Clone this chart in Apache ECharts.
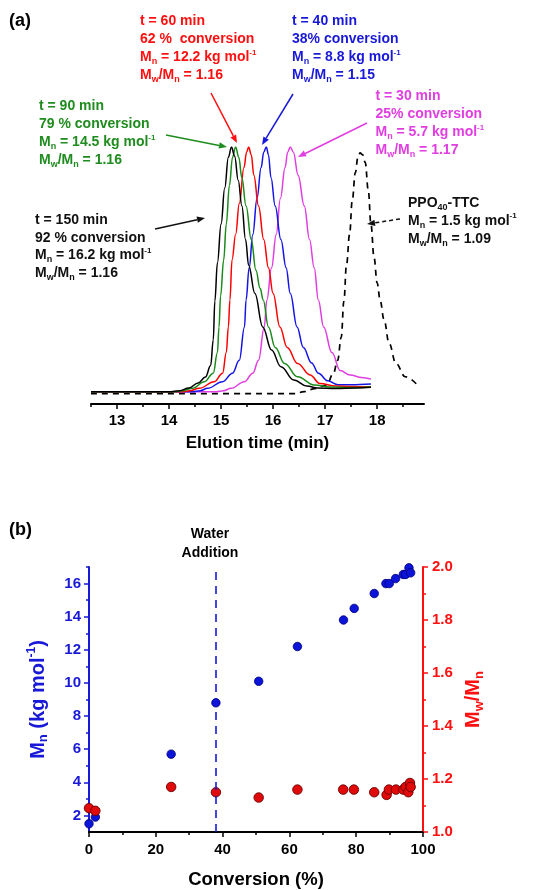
<!DOCTYPE html>
<html>
<head>
<meta charset="utf-8">
<title>GPC traces and Mn, dispersity vs conversion</title>
<script src="https://cdn.jsdelivr.net/npm/echarts@6.0.0/dist/echarts.min.js"></script>
<style>
  html, body { margin: 0; padding: 0; background: #fff; }
  #chart { width: 539px; height: 890px; }
</style>
</head>
<body>
<div id="chart"></div>
<script>
// ---- (a) GPC traces: [elution time (min), normalised RI signal] ----
const trace150 = [[12.5,0.048],[14.0,0.048],[14.2,0.052],[14.38,0.062],[14.56,0.082],[14.7,0.105],[14.8,0.15],[14.85,0.25],[14.88,0.4],[14.93,0.55],[15.0,0.7],[15.07,0.84],[15.14,0.96],[15.2,1.0],[15.26,0.965],[15.33,0.87],[15.4,0.77],[15.47,0.64],[15.53,0.54],[15.65,0.43],[15.8,0.3],[15.97,0.21],[16.15,0.145],[16.4,0.093],[16.65,0.07],[16.85,0.062],[17.2,0.06],[17.6,0.062],[17.88,0.065]]
const trace90 = [[12.5,0.048],[14.1,0.048],[14.25,0.052],[14.45,0.061],[14.68,0.087],[14.85,0.12],[14.93,0.2],[14.96,0.3],[14.99,0.42],[15.05,0.56],[15.1,0.7],[15.16,0.85],[15.22,0.96],[15.28,1.0],[15.34,0.96],[15.4,0.88],[15.48,0.77],[15.58,0.64],[15.67,0.52],[15.75,0.45],[15.81,0.405],[15.91,0.3],[16.04,0.22],[16.22,0.158],[16.47,0.106],[16.79,0.074],[17.1,0.066],[17.5,0.064],[17.88,0.066]]
const trace60 = [[12.5,0.048],[14.25,0.048],[14.4,0.052],[14.58,0.061],[14.87,0.087],[15.03,0.12],[15.1,0.2],[15.14,0.3],[15.17,0.405],[15.21,0.56],[15.28,0.66],[15.35,0.78],[15.44,0.92],[15.49,0.98],[15.53,1.0],[15.58,0.97],[15.63,0.89],[15.72,0.77],[15.82,0.64],[15.91,0.53],[16.0,0.43],[16.13,0.3],[16.27,0.22],[16.47,0.158],[16.71,0.113],[16.9,0.08],[17.2,0.07],[17.5,0.068],[17.88,0.066]]
const trace40 = [[12.5,0.048],[14.45,0.048],[14.6,0.052],[14.74,0.061],[15.03,0.087],[15.22,0.12],[15.35,0.17],[15.45,0.3],[15.48,0.405],[15.54,0.53],[15.61,0.66],[15.69,0.8],[15.77,0.92],[15.82,0.98],[15.87,1.0],[15.91,0.97],[15.96,0.88],[16.04,0.77],[16.15,0.64],[16.25,0.53],[16.33,0.43],[16.46,0.3],[16.58,0.22],[16.74,0.16],[16.87,0.12],[17.05,0.09],[17.25,0.075],[17.5,0.075],[17.88,0.078]]
const trace30 = [[12.5,0.048],[14.9,0.048],[15.05,0.052],[15.19,0.061],[15.45,0.087],[15.61,0.12],[15.72,0.17],[15.83,0.3],[15.88,0.405],[15.97,0.53],[16.06,0.66],[16.14,0.8],[16.23,0.92],[16.28,0.98],[16.33,1.0],[16.39,0.98],[16.48,0.89],[16.6,0.77],[16.7,0.64],[16.79,0.53],[16.87,0.405],[16.97,0.3],[17.13,0.2],[17.29,0.13],[17.48,0.113],[17.7,0.103],[17.88,0.097]]
const tracePPO = [[12.5,0.04],[16.4,0.04],[16.6,0.048],[16.8,0.06],[17.03,0.074],[17.16,0.12],[17.24,0.17],[17.31,0.26],[17.36,0.4],[17.41,0.54],[17.47,0.66],[17.52,0.79],[17.58,0.9],[17.63,0.96],[17.67,0.977],[17.72,0.97],[17.77,0.94],[17.83,0.83],[17.88,0.7],[17.94,0.57],[18.0,0.47],[18.06,0.4],[18.13,0.33],[18.23,0.236],[18.36,0.158],[18.54,0.106],[18.79,0.07]]
const elutionTicks = [13, 14, 15, 16, 17, 18]
const elutionMinorTicks = [12.5, 13.5, 14.5, 15.5, 16.5, 17.5, 18.5]

// ---- (b) Mn and Mw/Mn against conversion ----
const conversionMn = [0, 1.9, 24.6, 38, 50.8, 62.4, 76.2, 79.4, 85.4, 88.9, 89.9, 91.8, 94.1, 94.8, 95.8, 96.3]
const mnValues = [1.5, 1.9, 5.7, 8.8, 10.1, 12.2, 13.8, 14.5, 15.4, 16.0, 16.0, 16.3, 16.55, 16.55, 16.95, 16.65]
const conversionDisp = [0, 1.9, 24.6, 38, 50.8, 62.4, 76.1, 79.3, 85.4, 89.1, 89.8, 91.9, 94.1, 94.8, 95.6, 96.1, 96.3]
const dispValues = [1.09, 1.08, 1.17, 1.15, 1.13, 1.16, 1.16, 1.16, 1.15, 1.14, 1.16, 1.16, 1.16, 1.17, 1.15, 1.185, 1.17]
const waterAddition = 38
const mnTicks = [2, 4, 6, 8, 10, 12, 14, 16]
const mnMinorTicks = [3, 5, 7, 9, 11, 13, 15, 17]

const FONT = '"Liberation Sans", Arial, sans-serif'
const BLACK = '#000', RED = '#ff1010', BLUE = '#1818d8', GREEN = '#1e8c1e', MAGENTA = '#e03ee0'

// rich styles for M_n, mol^-1 etc.
function richFor(color, size) {
  return {
    b: { fontFamily: FONT, fontWeight: 'bold', fontSize: size, color: color, fill: color, lineHeight: 17.8 },
    s: { fontFamily: FONT, fontWeight: 'bold', fontSize: Math.round(size * 0.65), color: color, fill: color, lineHeight: 10, verticalAlign: 'bottom' },
    p: { fontFamily: FONT, fontWeight: 'bold', fontSize: Math.round(size * 0.6), color: color, fill: color, lineHeight: 10, verticalAlign: 'top' }
  }
}

function note(x, y, text, color) {
  return { type: 'text', x: x, y: y, z: 10,
    style: { text: text, fill: color, font: 'bold 14px ' + FONT, lineHeight: 17.8, rich: richFor(color, 14) } }
}

function arrow(x1, y1, x2, y2, color, dashed) {
  const a = Math.atan2(y2 - y1, x2 - x1)
  const len = 8, half = 3.2
  const bx = x2 - len * Math.cos(a), by = y2 - len * Math.sin(a)
  return [
    { type: 'line', z: 10, shape: { x1: x1, y1: y1, x2: bx, y2: by },
      style: { stroke: color, lineWidth: 1.5, lineDash: dashed ? [4, 3] : null } },
    { type: 'polygon', z: 10, shape: { points: [[x2, y2],
        [bx + half * Math.sin(a), by - half * Math.cos(a)],
        [bx - half * Math.sin(a), by + half * Math.cos(a)]] },
      style: { fill: color } }
  ]
}

function trace(data, color, dashed) {
  return {
    type: 'line', xAxisIndex: 0, yAxisIndex: 0, data: data,
    symbol: 'none', smooth: 0.4, smoothMonotone: 'x',
    lineStyle: { color: color, width: dashed ? 1.7 : 1.5, type: dashed ? [6, 5] : 'solid' }
  }
}

const tickLabel = (color) => ({ color: color, fontFamily: FONT, fontWeight: 'bold', fontSize: 15 })

const chart = echarts.init(document.getElementById('chart'))

chart.setOption({
  animation: false,
  backgroundColor: '#fff',
  grid: [
    { left: 91, right: 115, top: 147, bottom: 486 },
    { left: 89, right: 116, top: 567, bottom: 56 }
  ],
  xAxis: [
    {
      gridIndex: 0, type: 'value', position: 'bottom', min: 12.5, max: 18.9,
      axisLine: { lineStyle: { color: BLACK, width: 2 } },
      axisTick: { customValues: elutionTicks, length: 5, lineStyle: { color: BLACK, width: 1.5 } },
      axisLabel: Object.assign({ customValues: elutionTicks, margin: 9 }, tickLabel(BLACK)),
      splitLine: { show: false },
      name: 'Elution time (min)', nameLocation: 'middle', nameGap: 31,
      nameTextStyle: { color: BLACK, fontFamily: FONT, fontWeight: 'bold', fontSize: 17 }
    },
    {
      // minor ticks at the half minutes
      gridIndex: 0, type: 'value', position: 'bottom', min: 12.5, max: 18.9,
      axisLine: { show: false },
      axisTick: { customValues: elutionMinorTicks, length: 3, lineStyle: { color: BLACK, width: 1.5 } },
      axisLabel: { show: false },
      splitLine: { show: false }
    },
    {
      gridIndex: 1, type: 'value', position: 'bottom', min: 0, max: 100, interval: 20,
      axisLine: { lineStyle: { color: BLACK, width: 2 } },
      axisTick: { length: 5, lineStyle: { color: BLACK, width: 1.5 } },
      minorTick: { show: true, splitNumber: 2, length: 3, lineStyle: { color: BLACK, width: 1.5 } },
      axisLabel: Object.assign({ margin: 10 }, tickLabel(BLACK)),
      splitLine: { show: false },
      name: 'Conversion (%)', nameLocation: 'middle', nameGap: 38,
      nameTextStyle: { color: BLACK, fontFamily: FONT, fontWeight: 'bold', fontSize: 18.5 }
    }
  ],
  yAxis: [
    { gridIndex: 0, type: 'value', min: 0, max: 1, show: false },
    {
      gridIndex: 1, type: 'value', position: 'left', min: 1, max: 17,
      axisLine: { show: true, lineStyle: { color: BLUE, width: 2 } },
      axisTick: { show: true, customValues: mnTicks, length: 5, lineStyle: { color: BLUE, width: 1.5 } },
      axisLabel: Object.assign({ customValues: mnTicks, margin: 8 }, tickLabel(BLUE)),
      splitLine: { show: false },
      name: '{m|M}{s|n}{m| (kg mol}{p|-1}{m|)}', nameLocation: 'middle', nameGap: 39, nameRotate: 90,
      nameTextStyle: {
        color: BLUE,
        rich: {
          m: { color: BLUE, fontFamily: FONT, fontWeight: 'bold', fontSize: 20, lineHeight: 24 },
          s: { color: BLUE, fontFamily: FONT, fontWeight: 'bold', fontSize: 13, lineHeight: 13, verticalAlign: 'bottom' },
          p: { color: BLUE, fontFamily: FONT, fontWeight: 'bold', fontSize: 12, lineHeight: 12, verticalAlign: 'top' }
        }
      }
    },
    {
      gridIndex: 1, type: 'value', position: 'left', min: 1, max: 17,
      axisLine: { show: false },
      axisTick: { show: true, customValues: mnMinorTicks, length: 3, lineStyle: { color: BLUE, width: 1.5 } },
      axisLabel: { show: false },
      splitLine: { show: false }
    },
    {
      gridIndex: 1, type: 'value', position: 'right', min: 1.0, max: 2.0, interval: 0.2,
      axisLine: { show: true, lineStyle: { color: RED, width: 2 } },
      axisTick: { show: true, length: 5, lineStyle: { color: RED, width: 1.5 } },
      minorTick: { show: true, splitNumber: 2, length: 3, lineStyle: { color: RED, width: 1.5 } },
      axisLabel: Object.assign({ margin: 9, formatter: v => v.toFixed(1) }, tickLabel(RED)),
      splitLine: { show: false },
      name: '{m|M}{s|w}{m|/M}{s|n}', nameLocation: 'middle', nameGap: 38, nameRotate: 90,
      nameTextStyle: {
        color: RED,
        rich: {
          m: { color: RED, fontFamily: FONT, fontWeight: 'bold', fontSize: 20, lineHeight: 24 },
          s: { color: RED, fontFamily: FONT, fontWeight: 'bold', fontSize: 13, lineHeight: 13, verticalAlign: 'bottom' }
        }
      }
    }
  ],
  series: [
    trace(tracePPO, BLACK, true),
    trace(trace30, MAGENTA),
    trace(trace40, '#1414e6'),
    trace(trace60, '#ff0000'),
    trace(trace90, '#1a8a1a'),
    trace(trace150, BLACK),
    {
      type: 'scatter', xAxisIndex: 2, yAxisIndex: 1,
      data: conversionMn.map((c, i) => [c, mnValues[i]]),
      symbolSize: 8.5,
      itemStyle: { color: '#0c14d8', borderColor: '#00007a', borderWidth: 0.8, opacity: 1 },
      markLine: {
        silent: true, symbol: 'none', label: { show: false },
        lineStyle: { color: BLUE, width: 1.6, type: [8, 6] },
        data: [{ xAxis: waterAddition }]
      }
    },
    {
      type: 'scatter', xAxisIndex: 2, yAxisIndex: 3,
      data: conversionDisp.map((c, i) => [c, dispValues[i]]),
      symbolSize: 9.5,
      itemStyle: { color: '#e00a0a', borderColor: '#6b0000', borderWidth: 0.9, opacity: 1 }
    }
  ],
  graphic: [
    { type: 'text', x: 9, y: 12, style: { text: '(a)', fill: BLACK, font: 'bold 18px ' + FONT } },
    { type: 'text', x: 9, y: 521, style: { text: '(b)', fill: BLACK, font: 'bold 18px ' + FONT } },
    { type: 'text', x: 210, y: 525, style: { text: 'Water\nAddition', fill: BLACK, font: 'bold 14px ' + FONT, lineHeight: 18.5, align: 'center' } },

    note(140, 12.7, '{b|t = 60 min}\n{b|62 %  conversion}\n{b|M}{s|n}{b| = 12.2 kg mol}{p|-1}\n{b|M}{s|w}{b|/M}{s|n}{b| = 1.16}', RED),
    note(292, 12.7, '{b|t = 40 min}\n{b|38% conversion}\n{b|M}{s|n}{b| = 8.8 kg mol}{p|-1}\n{b|M}{s|w}{b|/M}{s|n}{b| = 1.15}', BLUE),
    note(39, 97.7, '{b|t = 90 min}\n{b|79 % conversion}\n{b|M}{s|n}{b| = 14.5 kg mol}{p|-1}\n{b|M}{s|w}{b|/M}{s|n}{b| = 1.16}', GREEN),
    note(375.5, 87.7, '{b|t = 30 min}\n{b|25% conversion}\n{b|M}{s|n}{b| = 5.7 kg mol}{p|-1}\n{b|M}{s|w}{b|/M}{s|n}{b| = 1.17}', MAGENTA),
    note(35, 211, '{b|t = 150 min}\n{b|92 % conversion}\n{b|M}{s|n}{b| = 16.2 kg mol}{p|-1}\n{b|M}{s|w}{b|/M}{s|n}{b| = 1.16}', '#111'),
    note(408, 194.3, '{b|PPO}{s|40}{b|-TTC}\n{b|M}{s|n}{b| = 1.5 kg mol}{p|-1}\n{b|M}{s|w}{b|/M}{s|n}{b| = 1.09}', '#111')
  ].concat(
    arrow(211, 93, 237, 143, RED),
    arrow(293, 94, 262, 145, BLUE),
    arrow(166, 135, 227, 147, GREEN),
    arrow(367, 123, 298, 157, MAGENTA),
    arrow(155, 229, 205, 218, '#111'),
    arrow(400, 219, 367, 224, '#111', true)
  )
})
</script>
</body>
</html>
